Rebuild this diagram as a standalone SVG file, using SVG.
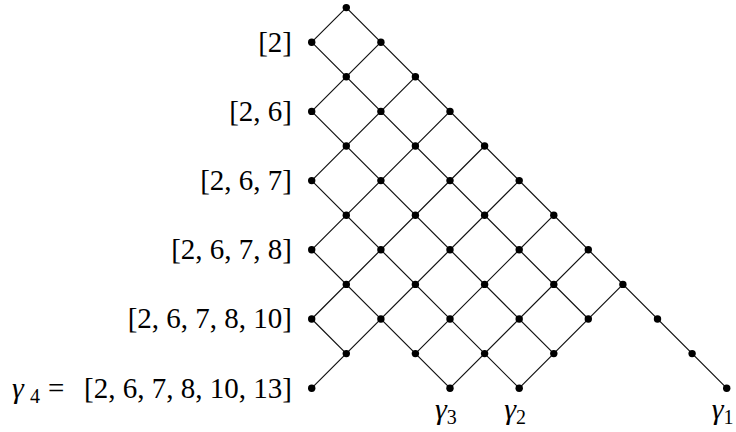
<svg xmlns="http://www.w3.org/2000/svg" width="736" height="432" viewBox="0 0 736 432">
<style>
.bg{fill:#fff}
.e{stroke:#111;stroke-width:1.2;fill:none;stroke-linecap:round}
.n{fill:#000}
.t{font-family:"Liberation Serif","DejaVu Serif",serif;font-size:29px;fill:#000}
.l{text-anchor:end}
.g{font-style:italic;font-size:30px}
.s{font-size:20px;font-style:normal}
</style>
<defs>
<circle id="dot" r="3.7" class="n"/>
</defs>
<rect class="bg" width="736" height="432"/>
<g id="connectors">
<line class="e" x1="346.3" y1="7.6" x2="726.7" y2="388.2"/>
<line class="e" x1="311.7" y1="42.2" x2="588.3" y2="319.0"/>
<line class="e" x1="311.7" y1="111.4" x2="553.8" y2="353.6"/>
<line class="e" x1="311.7" y1="180.6" x2="519.2" y2="388.2"/>
<line class="e" x1="311.7" y1="249.8" x2="450.0" y2="388.2"/>
<line class="e" x1="311.7" y1="319.0" x2="346.3" y2="353.6"/>
<line class="e" x1="346.3" y1="7.6" x2="311.7" y2="42.2"/>
<line class="e" x1="380.9" y1="42.2" x2="311.7" y2="111.4"/>
<line class="e" x1="415.4" y1="76.8" x2="311.7" y2="180.6"/>
<line class="e" x1="450.0" y1="111.4" x2="311.7" y2="249.8"/>
<line class="e" x1="484.6" y1="146.0" x2="311.7" y2="319.0"/>
<line class="e" x1="519.2" y1="180.6" x2="311.7" y2="388.2"/>
<line class="e" x1="553.8" y1="215.2" x2="415.4" y2="353.6"/>
<line class="e" x1="588.3" y1="249.8" x2="450.0" y2="388.2"/>
<line class="e" x1="622.9" y1="284.4" x2="519.2" y2="388.2"/>
</g>
<g id="n-1-0"><use href="#dot" x="346.3" y="7.6"/></g>
<g id="n-0-1"><use href="#dot" x="311.7" y="42.2"/><text class="t l" x="292" y="51.5">[2]</text></g>
<g id="n-2-1"><use href="#dot" x="380.9" y="42.2"/></g>
<g id="n-1-2"><use href="#dot" x="346.3" y="76.8"/></g>
<g id="n-3-2"><use href="#dot" x="415.4" y="76.8"/></g>
<g id="n-0-3"><use href="#dot" x="311.7" y="111.4"/><text class="t l" x="292" y="120.7">[2, 6]</text></g>
<g id="n-2-3"><use href="#dot" x="380.9" y="111.4"/></g>
<g id="n-4-3"><use href="#dot" x="450.0" y="111.4"/></g>
<g id="n-1-4"><use href="#dot" x="346.3" y="146.0"/></g>
<g id="n-3-4"><use href="#dot" x="415.4" y="146.0"/></g>
<g id="n-5-4"><use href="#dot" x="484.6" y="146.0"/></g>
<g id="n-0-5"><use href="#dot" x="311.7" y="180.6"/><text class="t l" x="292" y="189.9">[2, 6, 7]</text></g>
<g id="n-2-5"><use href="#dot" x="380.9" y="180.6"/></g>
<g id="n-4-5"><use href="#dot" x="450.0" y="180.6"/></g>
<g id="n-6-5"><use href="#dot" x="519.2" y="180.6"/></g>
<g id="n-1-6"><use href="#dot" x="346.3" y="215.2"/></g>
<g id="n-3-6"><use href="#dot" x="415.4" y="215.2"/></g>
<g id="n-5-6"><use href="#dot" x="484.6" y="215.2"/></g>
<g id="n-7-6"><use href="#dot" x="553.8" y="215.2"/></g>
<g id="n-0-7"><use href="#dot" x="311.7" y="249.8"/><text class="t l" x="292" y="259.3">[2, 6, 7, 8]</text></g>
<g id="n-2-7"><use href="#dot" x="380.9" y="249.8"/></g>
<g id="n-4-7"><use href="#dot" x="450.0" y="249.8"/></g>
<g id="n-6-7"><use href="#dot" x="519.2" y="249.8"/></g>
<g id="n-8-7"><use href="#dot" x="588.3" y="249.8"/></g>
<g id="n-1-8"><use href="#dot" x="346.3" y="284.4"/></g>
<g id="n-3-8"><use href="#dot" x="415.4" y="284.4"/></g>
<g id="n-5-8"><use href="#dot" x="484.6" y="284.4"/></g>
<g id="n-7-8"><use href="#dot" x="553.8" y="284.4"/></g>
<g id="n-9-8"><use href="#dot" x="622.9" y="284.4"/></g>
<g id="n-0-9"><use href="#dot" x="311.7" y="319.0"/><text class="t l" x="292" y="328.4">[2, 6, 7, 8, 10]</text></g>
<g id="n-2-9"><use href="#dot" x="380.9" y="319.0"/></g>
<g id="n-4-9"><use href="#dot" x="450.0" y="319.0"/></g>
<g id="n-6-9"><use href="#dot" x="519.2" y="319.0"/></g>
<g id="n-8-9"><use href="#dot" x="588.3" y="319.0"/></g>
<g id="n-10-9"><use href="#dot" x="657.5" y="319.0"/></g>
<g id="n-1-10"><use href="#dot" x="346.3" y="353.6"/></g>
<g id="n-3-10"><use href="#dot" x="415.4" y="353.6"/></g>
<g id="n-5-10"><use href="#dot" x="484.6" y="353.6"/></g>
<g id="n-7-10"><use href="#dot" x="553.8" y="353.6"/></g>
<g id="n-11-10"><use href="#dot" x="692.1" y="353.6"/></g>
<g id="n-0-11"><use href="#dot" x="311.7" y="388.2"/><text class="t" y="397.6"><tspan class="g" x="12">γ</tspan><tspan class="s" x="30" dy="5">4</tspan><tspan x="48" dy="-5">=</tspan><tspan x="84">[2, 6, 7, 8, 10, 13]</tspan></text></g>
<g id="n-4-11"><use href="#dot" x="450.0" y="388.2"/><text class="t" y="419"><tspan class="g" x="435">γ</tspan><tspan class="s" dy="5">3</tspan></text></g>
<g id="n-6-11"><use href="#dot" x="519.2" y="388.2"/><text class="t" y="419"><tspan class="g" x="504.2">γ</tspan><tspan class="s" dy="5">2</tspan></text></g>
<g id="n-12-11"><use href="#dot" x="726.7" y="388.2"/><text class="t" y="419"><tspan class="g" x="711.7">γ</tspan><tspan class="s" dy="5">1</tspan></text></g>
</svg>
